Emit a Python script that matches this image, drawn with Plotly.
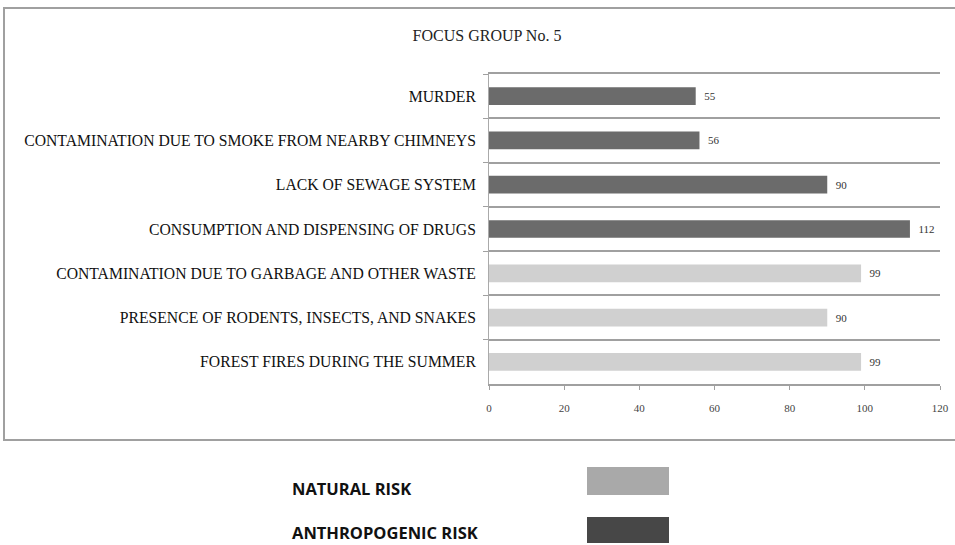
import plotly.graph_objects as go

# ---- data ----
categories = [
    "MURDER",
    "CONTAMINATION DUE TO SMOKE FROM NEARBY CHIMNEYS",
    "LACK OF SEWAGE SYSTEM",
    "CONSUMPTION AND DISPENSING OF DRUGS",
    "CONTAMINATION DUE TO GARBAGE AND OTHER WASTE",
    "PRESENCE OF RODENTS, INSECTS, AND SNAKES",
    "FOREST FIRES DURING THE SUMMER",
]
anthropogenic_cats = categories[:4]
anthropogenic_vals = [55, 56, 90, 112]
natural_cats = categories[4:]
natural_vals = [99, 90, 99]
x_ticks = [0, 20, 40, 60, 80, 100, 120]
title_text = "FOCUS GROUP No. 5"
legend_labels = ["NATURAL RISK", "ANTHROPOGENIC RISK"]

# ---- layout geometry (pixels) ----
W, H = 955, 545
PL, PR, PT, PB = 489, 940, 74, 384  # plot area edges


def px_x(x):
    return (x - PL) / (PR - PL)


def px_y(y):
    return (PB - y) / (PB - PT)


serif = "Liberation Serif, Times New Roman, serif"
sans = "Open Sans, sans-serif"
grid_col = "#a0a0a0"

fig = go.Figure()
fig.add_trace(go.Bar(
    y=anthropogenic_cats, x=anthropogenic_vals, orientation="h",
    marker=dict(color="#6b6b6b", line=dict(width=0)),
    text=anthropogenic_vals, texttemplate="  %{x}", textposition="outside",
    outsidetextfont=dict(family=serif, size=11, color="#333333"),
    cliponaxis=False, name=legend_labels[1], showlegend=False,
))
fig.add_trace(go.Bar(
    y=natural_cats, x=natural_vals, orientation="h",
    marker=dict(color="#d0d0d0", line=dict(width=0)),
    text=natural_vals, texttemplate="  %{x}", textposition="outside",
    outsidetextfont=dict(family=serif, size=11, color="#333333"),
    cliponaxis=False, name=legend_labels[0], showlegend=False,
))

shapes = [
    # outer frame
    dict(type="rect", xref="paper", yref="paper",
         x0=px_x(4), x1=px_x(962), y0=px_y(440), y1=px_y(8),
         line=dict(color="#a0a0a0", width=2), layer="below"),
    # legend swatches
    dict(type="rect", xref="paper", yref="paper",
         x0=px_x(587), x1=px_x(669), y0=px_y(495), y1=px_y(467),
         fillcolor="#a9a9a9", line=dict(width=0)),
    dict(type="rect", xref="paper", yref="paper",
         x0=px_x(587), x1=px_x(669), y0=px_y(543), y1=px_y(517),
         fillcolor="#474747", line=dict(width=0)),
]

annotations = [
    dict(text="<b>%s</b>" % legend_labels[0], xref="paper", yref="paper",
         x=px_x(290), y=px_y(488), xanchor="left", yanchor="middle",
         showarrow=False, font=dict(family=sans, size=16.5, color="#111111")),
    dict(text="<b>%s</b>" % legend_labels[1], xref="paper", yref="paper",
         x=px_x(290), y=px_y(532), xanchor="left", yanchor="middle",
         showarrow=False, font=dict(family=sans, size=16.5, color="#111111")),
]

fig.update_layout(
    width=W, height=H,
    margin=dict(l=PL, r=W - PR, t=PT, b=H - PB, pad=0, autoexpand=False),
    paper_bgcolor="white", plot_bgcolor="white",
    barmode="relative", bargap=0.6,
    title=dict(text=title_text, x=487 / W, xanchor="center",
               y=1 - 35 / H, yanchor="middle",
               font=dict(family=serif, size=16, color="#222222")),
    shapes=shapes, annotations=annotations,
    showlegend=False,
)
fig.update_xaxes(
    range=[0, 120], tickvals=x_ticks, showgrid=False, zeroline=False,
    showline=True, linecolor=grid_col, linewidth=1.5, mirror=True,
    ticks="outside", ticklen=4, tickcolor=grid_col,
    ticklabelstandoff=9,
    tickfont=dict(family=serif, size=11, color="#444444"),
)
fig.update_yaxes(
    type="category", categoryorder="array", categoryarray=categories,
    autorange="reversed", tickson="boundaries",
    showgrid=True, gridcolor=grid_col, gridwidth=1.5,
    showline=True, linecolor="#aaaaaa", linewidth=1,
    ticks="outside", ticklen=5, tickcolor=grid_col,
    ticklabelstandoff=9,
    tickfont=dict(family=serif, size=15.7, color="#111111"),
)

fig.write_html("out.html")
